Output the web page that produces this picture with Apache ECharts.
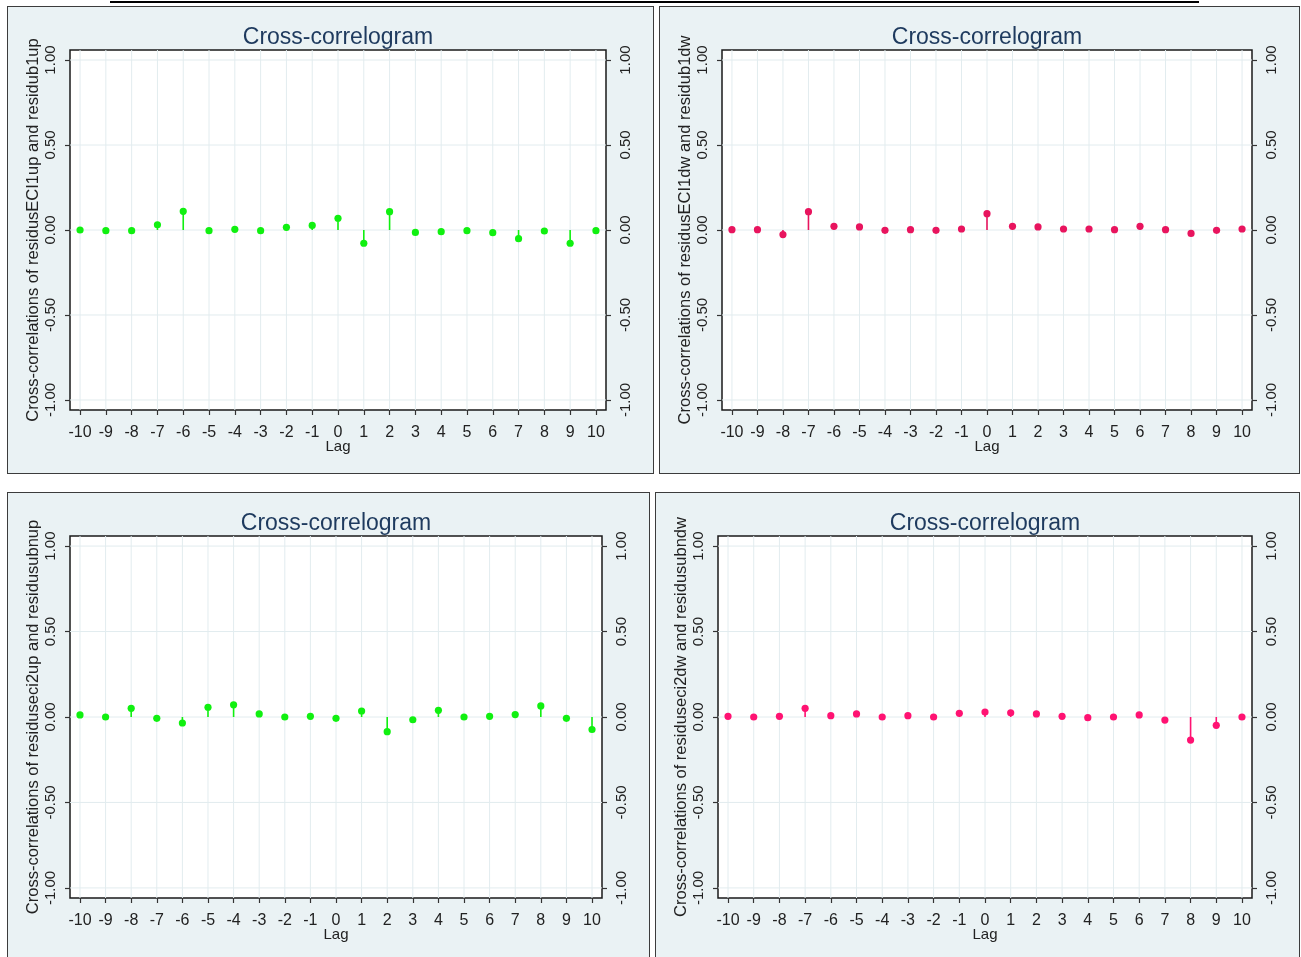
<!DOCTYPE html>
<html>
<head>
<meta charset="utf-8">
<title>Cross-correlograms</title>
<script src="https://cdn.jsdelivr.net/npm/echarts@6/dist/echarts.min.js"></script>
<style>
  html, body { margin: 0; padding: 0; background: #ffffff; }
  body { width: 1301px; height: 957px; position: relative; overflow: hidden; }
  .rule { position: absolute; left: 110px; top: 1px; width: 1089px; height: 2px; background: #000; }
  .panel { position: absolute; box-sizing: border-box; border: 1px solid #3c3c3c; background: #eaf2f4; }
  .panel .chart { position: absolute; left: 0; top: 0; right: 0; bottom: 0; }
</style>
</head>
<body>
<div class="rule"></div>
<div class="panel" id="p1" style="left:7px;top:6px;width:647px;height:468px;"><div class="chart" id="c1"></div></div>
<div class="panel" id="p2" style="left:659px;top:6px;width:641px;height:468px;"><div class="chart" id="c2"></div></div>
<div class="panel" id="p3" style="left:7px;top:492px;width:643px;height:470px;"><div class="chart" id="c3"></div></div>
<div class="panel" id="p4" style="left:655px;top:492px;width:645px;height:470px;"><div class="chart" id="c4"></div></div>

<script>
// Lags shown on the horizontal axis
const lags = [-10, -9, -8, -7, -6, -5, -4, -3, -2, -1, 0, 1, 2, 3, 4, 5, 6, 7, 8, 9, 10];
// Tick values on the correlation axis
const corrTicks = [-1, -0.5, 0, 0.5, 1];

// Cross-correlations at each lag
const ccfEci1up = [0.000, -0.004, -0.004, 0.031, 0.110, -0.004, 0.004, -0.004, 0.016, 0.027, 0.069,
                   -0.078, 0.108, -0.014, -0.010, -0.004, -0.016, -0.051, -0.006, -0.078, -0.004];
const ccfEci1dw = [0.002, 0.002, -0.027, 0.108, 0.022, 0.018, -0.002, 0.002, -0.002, 0.006, 0.096,
                   0.022, 0.018, 0.006, 0.006, 0.002, 0.022, 0.002, -0.020, -0.002, 0.006];
const ccfEci2up = [0.012, 0.000, 0.051, -0.008, -0.035, 0.057, 0.071, 0.018, 0.000, 0.004, -0.008,
                   0.035, -0.086, -0.016, 0.039, 0.000, 0.004, 0.014, 0.065, -0.008, -0.073];
const ccfEci2dw = [0.004, 0.000, 0.004, 0.051, 0.008, 0.018, 0.000, 0.008, 0.000, 0.022, 0.029,
                   0.025, 0.018, 0.004, -0.004, 0.000, 0.012, -0.018, -0.135, -0.049, 0.000];

const titleText = 'Cross-correlogram';
const xName = 'Lag';
const yNames = [
  'Cross-correlations of residusECI1up and residub1up',
  'Cross-correlations of residusECI1dw and residub1dw',
  'Cross-correlations of residuseci2up and residusubnup',
  'Cross-correlations of residuseci2dw and residusubndw'
];

const FONT = '"Liberation Sans", Arial, sans-serif';
const GRID_COLOR = '#e2ecef';
const GRID_BOX = { left: 62, right: 47, top: 43, bottom: 63 };

function fmtCorr(v) {
  return v.toFixed(2);
}

// Light reference line across the plot area, vertical (at a lag) or horizontal (at a correlation)
function gridLineRenderer(vertical) {
  return function (params, api) {
    const cs = params.coordSys;
    let shape;
    if (vertical) {
      const x = api.coord([api.value(0), 0])[0];
      shape = { x1: x, y1: cs.y, x2: x, y2: cs.y + cs.height };
    } else {
      const y = api.coord([0, api.value(1)])[1];
      shape = { x1: cs.x, y1: y, x2: cs.x + cs.width, y2: y };
    }
    return { type: 'line', shape: shape, style: { stroke: GRID_COLOR, lineWidth: 1 } };
  };
}

function buildOption(values, yName, color, chartWidth) {
  const data = lags.map((l, i) => [l, values[i]]);
  const plotCenter = (GRID_BOX.left + chartWidth - GRID_BOX.right) / 2;

  const yAxisBase = {
    type: 'value',
    min: -1.059,
    max: 1.059,
    axisLine: { show: false, onZero: false },
    axisTick: { show: true, inside: false, length: 5, customValues: corrTicks,
                lineStyle: { color: '#333', width: 1.2 } },
    axisLabel: { rotate: 90, customValues: corrTicks, formatter: fmtCorr,
                 fontFamily: FONT, fontSize: 15, color: '#222', margin: 12 },
    splitLine: { show: false }
  };

  return {
    animation: false,
    backgroundColor: 'transparent',
    title: {
      text: titleText,
      left: plotCenter - 5,
      textAlign: 'center',
      top: 14,
      textStyle: { fontFamily: FONT, fontSize: 23, fontWeight: 'normal', color: '#1e3a5e' }
    },
    grid: Object.assign({
      show: true,
      backgroundColor: '#ffffff',
      borderColor: '#1a1a1a',
      borderWidth: 1.5
    }, GRID_BOX),
    xAxis: {
      type: 'value',
      min: -10.39,
      max: 10.39,
      name: xName,
      nameLocation: 'middle',
      nameGap: 29,
      nameMoveOverlap: false,
      nameTextStyle: { fontFamily: FONT, fontSize: 15, color: '#222' },
      axisLine: { show: false, onZero: false },
      axisTick: { show: true, length: 5, customValues: lags,
                  lineStyle: { color: '#333', width: 1.2 } },
      axisLabel: { customValues: lags, fontFamily: FONT, fontSize: 16, color: '#222', margin: 15 },
      splitLine: { show: false }
    },
    yAxis: [
      Object.assign({}, yAxisBase, {
        position: 'left',
        name: yName,
        nameLocation: 'middle',
        nameRotate: 90,
        nameGap: 28,
        nameMoveOverlap: false,
        nameTextStyle: { fontFamily: FONT, fontSize: 16.5, color: '#222' }
      }),
      Object.assign({}, yAxisBase, { position: 'right' })
    ],
    series: [
      {
        type: 'custom',
        silent: true,
        z: 1,
        data: lags.map(l => [l, 0]),
        renderItem: gridLineRenderer(true)
      },
      {
        type: 'custom',
        silent: true,
        z: 1,
        data: corrTicks.map(t => [0, t]),
        renderItem: gridLineRenderer(false)
      },
      {
        // stems from zero with a dot at each correlation
        type: 'custom',
        z: 3,
        data: data,
        renderItem: function (params, api) {
          const x = api.value(0);
          const y = api.value(1);
          const base = api.coord([x, 0]);
          const tip = api.coord([x, y]);
          return {
            type: 'group',
            children: [
              { type: 'line',
                shape: { x1: base[0], y1: base[1], x2: tip[0], y2: tip[1] },
                style: { stroke: color, lineWidth: 1.6 } },
              { type: 'circle',
                shape: { cx: tip[0], cy: tip[1], r: 3.6 },
                style: { fill: color } }
            ]
          };
        }
      }
    ]
  };
}

const panels = [
  { el: 'c1', values: ccfEci1up, name: yNames[0], color: '#10f010' },
  { el: 'c2', values: ccfEci1dw, name: yNames[1], color: '#e8145e' },
  { el: 'c3', values: ccfEci2up, name: yNames[2], color: '#10f010' },
  { el: 'c4', values: ccfEci2dw, name: yNames[3], color: '#ff1272' }
];

panels.forEach(p => {
  const chart = echarts.init(document.getElementById(p.el), null, { renderer: 'canvas' });
  chart.setOption(buildOption(p.values, p.name, p.color, chart.getWidth()));
});
</script>
</body>
</html>
